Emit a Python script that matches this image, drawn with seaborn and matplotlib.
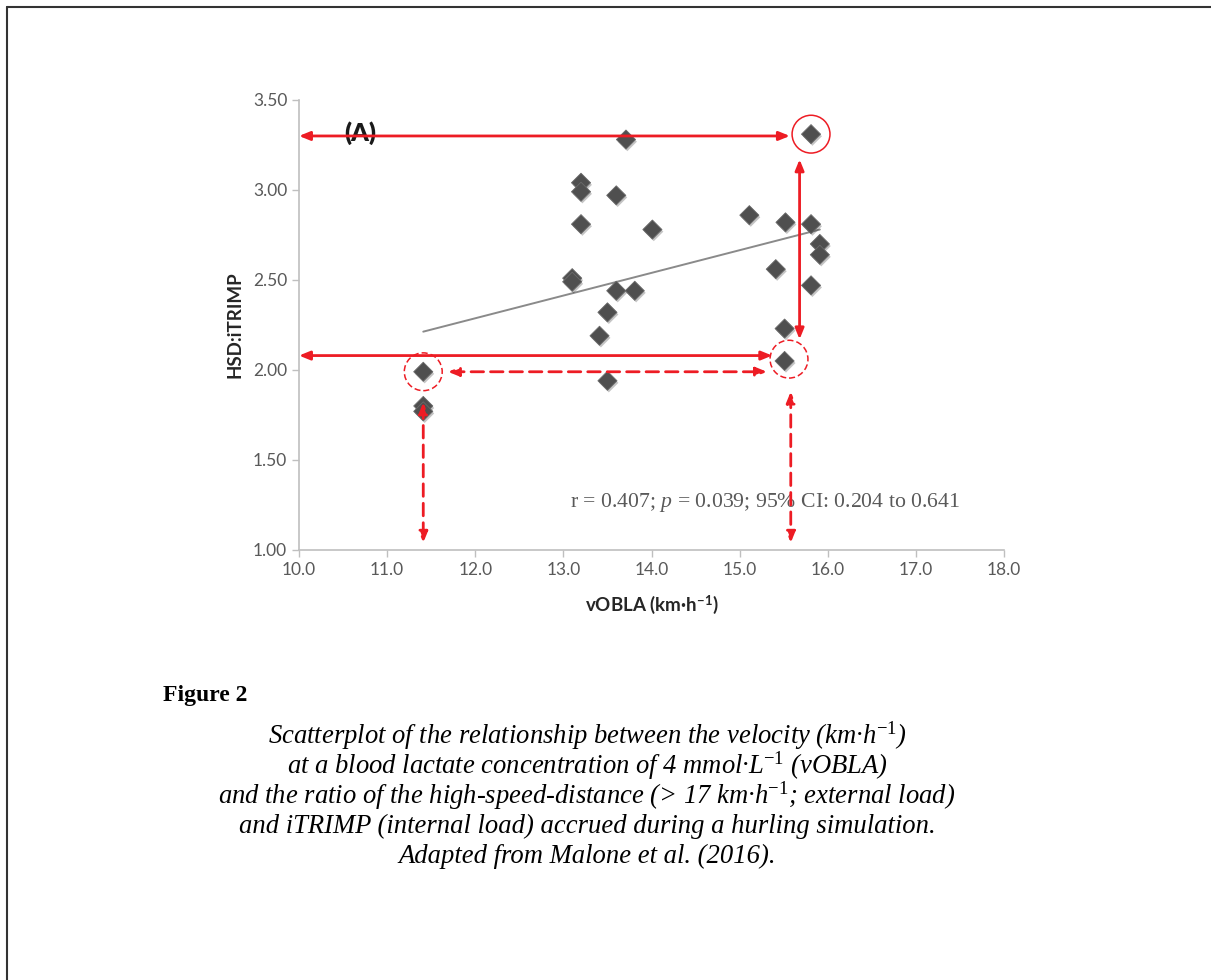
import numpy as np
import pandas as pd
import matplotlib as mpl
mpl.use('Agg')
import matplotlib.pyplot as plt
import seaborn as sns
from matplotlib.patches import Ellipse
from matplotlib.lines import Line2D
import matplotlib.patheffects as pe

# data
vobla = [15.81, 13.71, 13.20, 13.20, 13.60, 13.20, 14.01, 15.11, 15.52, 15.81,
         15.91, 15.91, 15.81, 15.41, 15.51, 15.51, 13.10, 13.10, 13.60, 13.81,
         13.50, 13.41, 13.50, 11.41, 11.41, 11.41]
hsd_itrimp = [3.31, 3.28, 3.04, 2.99, 2.97, 2.81, 2.78, 2.86, 2.82, 2.81,
              2.70, 2.64, 2.47, 2.56, 2.23, 2.05, 2.51, 2.49, 2.44, 2.44,
              2.32, 2.19, 1.94, 1.99, 1.80, 1.77]
x_ticks = [10.0, 11.0, 12.0, 13.0, 14.0, 15.0, 16.0, 17.0, 18.0]
y_ticks = [1.00, 1.50, 2.00, 2.50, 3.00, 3.50]

# red annotation arrows (x0, y0, x1, y1, dashed)
arrows = [
    (15.57, 3.30, 10.0, 3.30, False),
    (15.68, 3.17, 15.68, 2.17, False),
    (15.37, 2.08, 10.0, 2.08, False),
    (11.69, 1.99, 15.31, 1.99, True),
    (11.41, 1.82, 11.41, 1.04, True),
    (15.58, 1.88, 15.58, 1.04, True),
]
# highlight circles (x, y, dashed)
circles = [(15.81, 3.31, False), (11.41, 1.99, True), (15.56, 2.06, True)]

caption = [
    r"Scatterplot of the relationship between the velocity (km·h$^{\mathrm{-1}}$)",
    r"at a blood lactate concentration of 4 mmol·L$^{\mathrm{-1}}$ (vOBLA)",
    r"and the ratio of the high-speed-distance (> 17 km·h$^{\mathrm{-1}}$; external load)",
    "and iTRIMP (internal load) accrued during a hurling simulation.",
    "Adapted from Malone et al. (2016).",
]

sns.set_style('white')
plt.rcParams['font.family'] = ['Lato', 'DejaVu Sans']
plt.rcParams['mathtext.fontset'] = 'custom'
plt.rcParams['mathtext.rm'] = 'Liberation Serif'
plt.rcParams['mathtext.it'] = 'Liberation Serif:italic'
plt.rcParams['mathtext.bf'] = 'Lato:bold'

RED = '#ed1c24'
GREY = '#595959'

df = pd.DataFrame({'vOBLA': vobla, 'HSD:iTRIMP': hsd_itrimp})

fig = plt.figure(figsize=(12.11, 9.80), dpi=100)
ax = fig.add_axes([0.2469, 0.4388, 0.5822, 0.4592])

sns.regplot(data=df, x='vOBLA', y='HSD:iTRIMP', ax=ax, ci=None, scatter=False,
            line_kws=dict(color='#8a8a8a', lw=1.4))
sns.scatterplot(data=df, x='vOBLA', y='HSD:iTRIMP', ax=ax, marker='D', s=95,
                color='#4f4f4f', edgecolor='#6a6a6a', linewidth=0.6, zorder=3,
                path_effects=[pe.SimplePatchShadow(offset=(1, -1.5), alpha=0.25),
                              pe.Normal()])

for x0, y0, x1, y1, dashed in arrows:
    ls = (0, (4.5, 2.5)) if dashed else '-'
    ax.annotate('', xy=(x1, y1), xytext=(x0, y0),
                arrowprops=dict(arrowstyle='<|-|>,head_length=0.32,head_width=0.13',
                                color=RED, lw=2.0, linestyle=ls,
                                shrinkA=0, shrinkB=0, mutation_scale=20),
                zorder=4)

for cx, cy, dashed in circles:
    ax.add_patch(Ellipse((cx, cy), width=0.43, height=0.21, fill=False,
                         edgecolor=RED, lw=1.1,
                         linestyle=(0, (4, 2)) if dashed else '-', zorder=4))

ax.text(10.69, 3.315, '(A)', fontsize=18, fontweight='heavy', color='#1a1a1a',
        ha='center', va='center')
ax.text(13.08, 1.265, r"r = 0.407; $\mathit{p}$ = 0.039; 95% CI: 0.204 to 0.641",
        fontsize=15.7, family='Liberation Serif', color=GREY, ha='left', va='center')

ax.set_xlim(10.0, 18.0)
ax.set_ylim(1.0, 3.5)
ax.set_xticks(x_ticks)
ax.set_yticks(y_ticks)
ax.set_xticklabels([f'{v:.1f}' for v in x_ticks])
ax.set_yticklabels([f'{v:.2f}' for v in y_ticks])
ax.tick_params(direction='out', length=5, width=1, color='#bfbfbf',
               labelcolor=GREY, labelsize=12.5, bottom=True, left=True)
sns.despine(ax=ax)
for side in ['left', 'bottom']:
    ax.spines[side].set_color('#bfbfbf')
    ax.spines[side].set_linewidth(1.2)

ax.set_xlabel(r'vOBLA (km·h$^{\mathbf{-1}}$)', fontsize=13.5, fontweight='bold',
              color='#262626', labelpad=11)
ax.set_ylabel('HSD:iTRIMP', fontsize=13.5, fontweight='bold', color='#262626',
              labelpad=7)

# page frame
fig.add_artist(Line2D([7 / 1211, 1.0], [1 - 7 / 980, 1 - 7 / 980],
                      transform=fig.transFigure, color='#333333', lw=1.5))
fig.add_artist(Line2D([7 / 1211, 7 / 1211], [0.0, 1 - 7 / 980],
                      transform=fig.transFigure, color='#333333', lw=1.5))

fig.text(163 / 1211, 1 - 695 / 980, 'Figure 2', fontsize=17, fontweight='bold',
         family='Liberation Serif', color='black', ha='left', va='center')
for i, line in enumerate(caption):
    fig.text(587 / 1211, 1 - (736 + 30 * i) / 980, line, fontsize=19.2,
             style='italic', family='Liberation Serif', color='black',
             ha='center', va='center')

fig.savefig('out.png', dpi=100)
